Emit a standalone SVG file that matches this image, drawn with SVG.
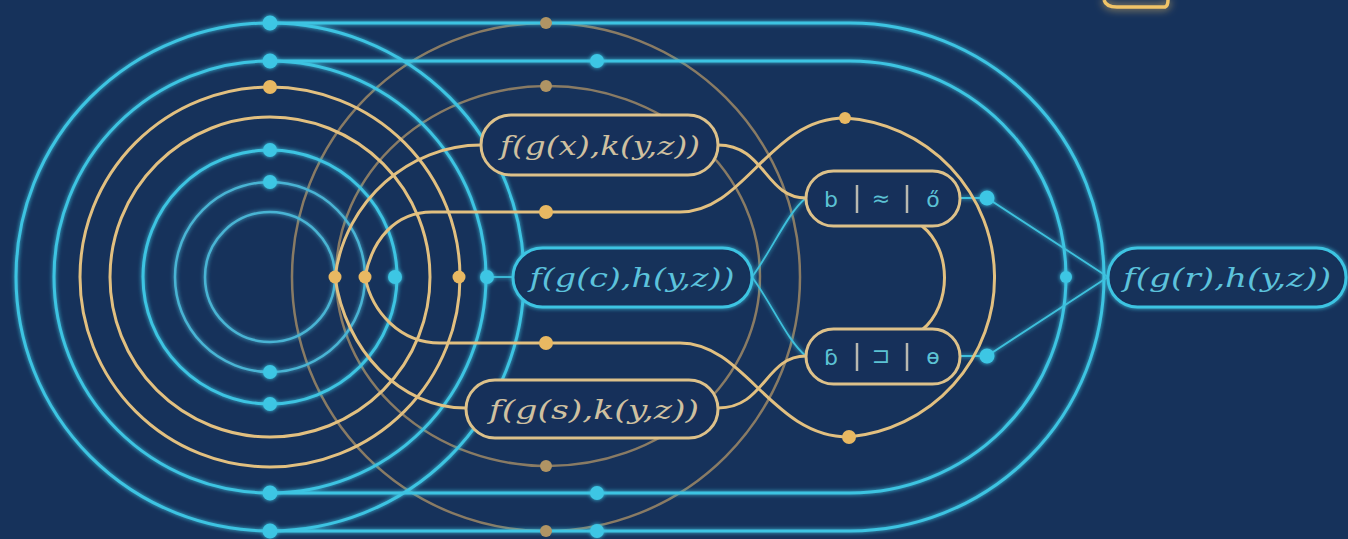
<svg xmlns="http://www.w3.org/2000/svg" width="1348" height="539" viewBox="0 0 1348 539">
<defs>
<filter id="glow" x="-10%" y="-10%" width="120%" height="120%">
<feGaussianBlur in="SourceGraphic" stdDeviation="2.2" result="b"/>
<feMerge><feMergeNode in="b"/><feMergeNode in="SourceGraphic"/></feMerge>
</filter>
<filter id="glowBig" x="-50%" y="-200%" width="200%" height="500%">
<feGaussianBlur in="SourceGraphic" stdDeviation="4" result="b"/>
<feMerge><feMergeNode in="b"/><feMergeNode in="SourceGraphic"/></feMerge>
</filter>
<style>
.cy{fill:none;stroke:#3ec4e2;stroke-width:3}
.cyi{fill:none;stroke:#4ab4d4;stroke-width:2.5}
.cyt{fill:none;stroke:#3ec0dc;stroke-width:1.8}
.gd{fill:none;stroke:#e2c080;stroke-width:3}
.tan{fill:none;stroke:#9e8866;stroke-width:2.5;opacity:.85}
.dc{fill:#3cc6e4}
.dg{fill:#e8b862}
.dt{fill:#b09464}
.ng{fill:#16305a;stroke:#ddc18a;stroke-width:3}
.nc{fill:#16305a;stroke:#3ec4e2;stroke-width:3}
.tg{font-family:"DejaVu Serif","Liberation Serif",serif;font-style:italic;font-size:26px;fill:#cfc0a0;text-anchor:middle}
.tc{font-family:"DejaVu Serif","Liberation Serif",serif;font-style:italic;font-size:26px;fill:#5cc2dc;text-anchor:middle}
.tb{font-family:"DejaVu Sans","Liberation Sans",sans-serif;font-size:22px;fill:#5cc2d4;text-anchor:middle}
.dv{stroke:#b8b8b0;stroke-width:2.5}
</style>
</defs>
<rect x="0" y="0" width="1348" height="539" fill="#16325b"/>

<g id="connectors">
<circle class="tan" cx="546" cy="277" r="254"/>
<ellipse class="tan" cx="548" cy="276" rx="212" ry="190"/>
<g filter="url(#glow)">
<circle class="cyi" cx="270" cy="277" r="65"/>
<circle class="cyi" cx="270" cy="277" r="95"/>
<circle class="cy" cx="270" cy="277" r="127"/>
<circle class="cy" cx="270" cy="277" r="216"/>
<circle class="cy" cx="270" cy="277" r="254"/>
<path class="cy" d="M270,23 L850,23 A254,254 0 0 1 850,531 L270,531"/>
<path class="cy" d="M270,61 L850,61 A216,216 0 0 1 850,493 L270,493"/>
<path class="cyt" d="M487,277 L513,277"/>
<path class="cyt" d="M752,277 C772,250 788,212 806,198"/>
<path class="cyt" d="M752,277 C772,304 788,342 806,356"/>
<path class="cyt" d="M960,198 L987,198 L1108,277 L987,356 L960,356"/>
</g>
<circle class="gd" cx="270" cy="277" r="160"/>
<circle class="gd" cx="270" cy="277" r="190"/>
<path class="gd" d="M365,277 C372,240 395,212 432,212 L680,212 C745,212 770,118 845,118 A160,160 0 0 1 849,437 C772,437 745,343 680,343 L440,343 C400,343 372,312 365,277"/>
<path class="gd" d="M335,277 C345,200 410,145 481,145"/>
<path class="gd" d="M335,277 C345,350 400,408 466,408"/>
<path class="gd" d="M718,145 C765,145 765,198 806,198"/>
<path class="gd" d="M718,408 C765,408 765,356 806,356"/>
<path class="gd" d="M922,226 C952,250 952,305 922,330"/>
<path d="M1104,0 Q1106,7 1117,7 L1165,7 Q1168,6 1168,0" fill="none" stroke="#f0c468" stroke-width="3.5" filter="url(#glowBig)"/>
</g>

<g id="dots">
<g class="dt">
<circle cx="546" cy="23" r="6"/><circle cx="546" cy="86" r="6"/><circle cx="546" cy="466" r="6"/><circle cx="546" cy="531" r="6"/>
</g>
<g class="dg">
<circle cx="270" cy="87" r="7"/><circle cx="335" cy="277" r="6.5"/><circle cx="365" cy="277" r="6.5"/><circle cx="459" cy="277" r="6.5"/>
<circle cx="546" cy="212" r="7"/><circle cx="546" cy="343" r="7"/><circle cx="845" cy="118" r="6"/><circle cx="849" cy="437" r="7"/>
</g>
<g class="dc" filter="url(#glow)">
<circle cx="270" cy="23" r="7.5"/><circle cx="270" cy="61" r="7.5"/><circle cx="270" cy="150" r="7"/><circle cx="270" cy="182" r="7"/>
<circle cx="270" cy="372" r="7"/><circle cx="270" cy="404" r="7"/><circle cx="270" cy="493" r="7.5"/><circle cx="270" cy="531" r="7.5"/>
<circle cx="395" cy="277" r="7"/><circle cx="487" cy="277" r="7"/>
<circle cx="597" cy="61" r="7"/><circle cx="597" cy="493" r="7"/><circle cx="597" cy="531" r="7"/>
<circle cx="987" cy="198" r="7.5"/><circle cx="987" cy="356" r="7.5"/><circle cx="1066" cy="277" r="6"/>
</g>
</g>

<g id="node-top">
<rect class="ng" x="481" y="115" width="237" height="60" rx="30"/>
<text class="tg" x="600" y="155" textLength="200" lengthAdjust="spacingAndGlyphs">f(g(x),k(y,z))</text>
</g>
<g id="node-middle">
<rect class="nc" x="513" y="248" width="239" height="59" rx="29.5" filter="url(#glow)"/>
<text class="tc" x="632" y="287" textLength="205" lengthAdjust="spacingAndGlyphs">f(g(c),h(y,z))</text>
</g>
<g id="node-bottom">
<rect class="ng" x="466" y="380" width="252" height="58" rx="29"/>
<text class="tg" x="594" y="419" textLength="210" lengthAdjust="spacingAndGlyphs">f(g(s),k(y,z))</text>
</g>
<g id="node-right">
<rect class="nc" x="1108" y="248" width="238" height="59" rx="29.5" filter="url(#glow)"/>
<text class="tc" x="1227" y="287" textLength="208" lengthAdjust="spacingAndGlyphs">f(g(r),h(y,z))</text>
</g>
<g id="box-top">
<rect class="ng" x="806" y="171" width="154" height="55" rx="27.5"/>
<text class="tb" x="831" y="207">b</text>
<line class="dv" x1="857" y1="185" x2="857" y2="213"/>
<text class="tb" x="881" y="206" font-size="15">≈</text>
<line class="dv" x1="907" y1="185" x2="907" y2="213"/>
<text class="tb" x="933" y="207" font-size="18">ő</text>
</g>
<g id="box-bottom">
<rect class="ng" x="806" y="329" width="154" height="55" rx="27.5"/>
<text class="tb" x="831" y="365">ɓ</text>
<line class="dv" x1="857" y1="343" x2="857" y2="371"/>
<text class="tb" x="881" y="363" font-size="14">⊐</text>
<line class="dv" x1="907" y1="343" x2="907" y2="371"/>
<text class="tb" x="933" y="364" font-size="18">ɵ</text>
</g>
</svg>
